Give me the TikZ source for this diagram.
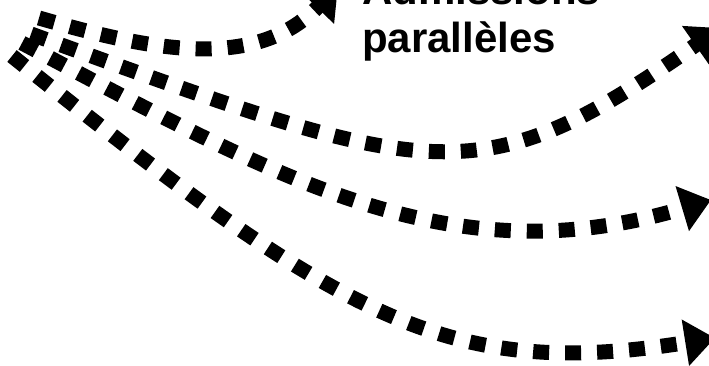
\documentclass[tikz,border=0pt]{standalone}
\usepackage{fontspec}
\setmainfont{Liberation Sans}
\usetikzlibrary{arrows.meta}
\tikzset{
  flow/.style={draw=black, line width=15pt, dash pattern=on 16pt off 16pt,
    -{Triangle[length=30pt,width=45pt]}},
  lbl/.style={inner sep=0pt, anchor=base west,
    font=\fontsize{42}{48}\selectfont\bfseries}
}
\begin{document}
\begin{tikzpicture}[x=1pt,y=-1pt]
\useasboundingbox (0,0) rectangle (709,366);
\clip (0,0) rectangle (709,366);
% text
\node[lbl] (t1) at (362,5) {Admissions};
\node[lbl] (t2) at (362,53) {parallèles};
% start and end points
\coordinate (s1) at (39,18);
\coordinate (s2) at (31,34);
\coordinate (s3) at (22,43);
\coordinate (s4) at (12,56);
\coordinate (e1) at (338,-14);
\coordinate (e2) at (720,28);
\coordinate (e3) at (711,200);
\coordinate (e4) at (715,338);
% arrows
\draw[flow] (s4) .. controls (346,324) and (451,380) .. (e4);
\draw[flow] (s3) .. controls (279,179) and (450,278) .. (e3);
\draw[flow] (s2) .. controls (433,180) and (477,198) .. (e2);
\draw[flow] (s1) .. controls (150,50) and (255,72) .. (e1);
\end{tikzpicture}
\end{document}
